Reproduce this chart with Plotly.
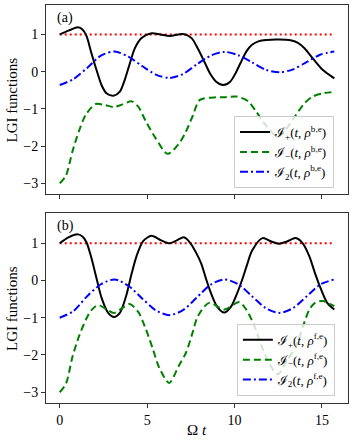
import plotly.graph_objects as go

# ---- data ----
t_end = 15.708
# panel (a)
a_plus_x = [0, 0.5, 1.05, 1.3, 1.53, 1.81, 2.1, 2.39, 2.67, 3.08, 3.44, 3.72, 4.01, 4.3, 4.68, 5.25, 5.75, 6.3, 7.06, 7.54, 7.92, 8.3, 8.6, 8.95, 9.36, 9.75, 10.05, 10.35, 10.69, 11.0, 11.4, 11.8, 12.56, 13.2, 13.6, 14.0, 14.47, 15.04, 15.708]
a_plus_y = [1.0, 1.1, 1.19, 1.13, 0.96, 0.5, 0.05, -0.36, -0.58, -0.65, -0.54, -0.22, 0.22, 0.63, 0.9, 1.03, 1.0, 0.96, 1.01, 0.9, 0.6, 0.24, -0.05, -0.27, -0.36, -0.27, -0.05, 0.24, 0.55, 0.72, 0.82, 0.85, 0.86, 0.84, 0.78, 0.63, 0.36, 0.05, -0.18]
a_minus_x = [0, 0.35, 0.73, 1.1, 1.49, 2.06, 2.6, 3.11, 3.6, 4.12, 4.5, 4.93, 5.5, 6.17, 6.8, 7.22, 7.6, 8.02, 8.97, 9.41, 10.12, 10.79, 11.23, 11.8, 12.5, 13.1, 13.52, 14.0, 14.47, 15.1, 15.708]
a_minus_y = [-3.0, -2.8, -2.14, -1.6, -1.16, -0.87, -0.9, -0.95, -0.88, -0.80, -0.95, -1.34, -1.8, -2.21, -1.95, -1.61, -1.2, -0.76, -0.69, -0.69, -0.67, -0.8, -1.07, -1.45, -1.76, -1.45, -1.16, -0.85, -0.67, -0.58, -0.55]
a_two_x = [0, 0.785, 1.571, 2.356, 3.142, 3.927, 4.712, 5.498, 6.283, 7.069, 7.854, 8.639, 9.425, 10.21, 10.996, 11.781, 12.566, 13.352, 14.137, 14.923, 15.708]
a_two_y = [-0.36, -0.2, 0.1, 0.43, 0.54, 0.40, 0.15, -0.08, -0.17, -0.06, 0.2, 0.43, 0.53, 0.44, 0.25, 0.05, -0.02, 0.06, 0.26, 0.46, 0.54]
# panel (b)
b_plus_x = [0, 0.5, 1.05, 1.3, 1.53, 1.81, 2.1, 2.39, 2.77, 3.11, 3.44, 3.82, 4.1, 4.39, 4.77, 5.25, 5.8, 6.28, 6.7, 7.1, 7.45, 7.8, 8.1, 8.4, 8.7, 9.0, 9.41, 9.8, 10.1, 10.42, 10.7, 11.0, 11.6, 12.1, 12.56, 13.0, 13.5, 13.9, 14.28, 14.6, 14.95, 15.3, 15.708]
b_plus_y = [1.0, 1.16, 1.24, 1.18, 1.03, 0.61, 0.07, -0.46, -0.87, -0.98, -0.87, -0.38, 0.16, 0.65, 1.06, 1.2, 1.08, 1.0, 1.08, 1.16, 1.02, 0.75, 0.45, 0.0, -0.4, -0.7, -0.86, -0.7, -0.4, 0.0, 0.4, 0.8, 1.14, 1.05, 0.99, 1.05, 1.14, 1.0, 0.65, 0.2, -0.24, -0.6, -0.78]
b_minus_x = [0, 0.35, 0.73, 1.1, 1.5, 1.8, 2.19, 2.7, 3.11, 3.55, 4.0, 4.5, 4.93, 5.3, 5.7, 6.26, 6.8, 7.22, 7.6, 7.9, 8.55, 9.41, 10.27, 10.7, 11.13, 11.5, 11.9, 12.47, 13.0, 13.52, 13.9, 14.28, 14.6, 15.04, 15.708]
b_minus_y = [-3.0, -2.78, -2.05, -1.5, -1.05, -0.8, -0.66, -0.78, -0.87, -0.75, -0.63, -0.85, -1.31, -1.8, -2.35, -2.75, -2.3, -1.94, -1.4, -0.96, -0.60, -0.78, -0.58, -0.8, -1.22, -1.7, -2.15, -2.52, -2.15, -1.76, -1.25, -0.78, -0.6, -0.55, -0.69]
b_two_x = [0, 0.785, 1.571, 2.356, 3.142, 3.927, 4.712, 5.498, 6.283, 7.069, 7.854, 8.639, 9.425, 10.21, 10.996, 11.781, 12.566, 13.352, 14.137, 14.923, 15.708]
b_two_y = [-1.0, -0.82, -0.42, -0.1, 0.03, -0.14, -0.48, -0.8, -0.93, -0.79, -0.45, -0.11, 0.03, -0.10, -0.42, -0.74, -0.87, -0.74, -0.42, -0.10, 0.03]
bound_x = [0, t_end]
bound_y = [1, 1]

x_ticks = [0, 5, 10, 15]
y_ticks = [-3, -2, -1, 0, 1]

names_a = ["ℐ<sub>+</sub>(<i>t</i>, <i>ρ</i><sup>b,e</sup>)",
           "ℐ<sub>−</sub>(<i>t</i>, <i>ρ</i><sup>b,e</sup>)",
           "ℐ<sub>2</sub>(<i>t</i>, <i>ρ</i><sup>b,e</sup>)"]
names_b = ["ℐ<sub>+</sub>(<i>t</i>, <i>ρ</i><sup>f,e</sup>)",
           "ℐ<sub>−</sub>(<i>t</i>, <i>ρ</i><sup>f,e</sup>)",
           "ℐ<sub>2</sub>(<i>t</i>, <i>ρ</i><sup>f,e</sup>)"]

FONT = "Liberation Serif, DejaVu Serif, serif"
fig = go.Figure()

def add_panel(xa, ya, legend, names, px, py, mx, my, tx, ty):
    fig.add_trace(go.Scatter(x=bound_x, y=bound_y, mode="lines", xaxis=xa, yaxis=ya,
                             line=dict(color="#ff0000", width=2, dash="2px,3px"), showlegend=False))
    fig.add_trace(go.Scatter(x=px, y=py, mode="lines", xaxis=xa, yaxis=ya, name=names[0], legend=legend,
                             line=dict(color="black", width=2, shape="spline", smoothing=0.8)))
    fig.add_trace(go.Scatter(x=mx, y=my, mode="lines", xaxis=xa, yaxis=ya, name=names[1], legend=legend,
                             line=dict(color="#008000", width=2, dash="7px,4px", shape="spline", smoothing=0.8)))
    fig.add_trace(go.Scatter(x=tx, y=ty, mode="lines", xaxis=xa, yaxis=ya, name=names[2], legend=legend,
                             line=dict(color="#0000ff", width=2, dash="8px,3px,2px,3px", shape="spline", smoothing=0.8)))

add_panel("x", "y", "legend", names_a, a_plus_x, a_plus_y, a_minus_x, a_minus_y, a_two_x, a_two_y)
add_panel("x2", "y2", "legend2", names_b, b_plus_x, b_plus_y, b_minus_x, b_minus_y, b_two_x, b_two_y)

axis_common = dict(showgrid=False, zeroline=False, showline=True, mirror=True, linecolor="#333333",
                   linewidth=1, ticks="outside", ticklen=4, tickcolor="#333333",
                   tickfont=dict(family=FONT, size=14, color="black"))

legend_common = dict(bgcolor="rgba(255,255,255,0.8)", bordercolor="#cccccc", borderwidth=1,
                     font=dict(family=FONT, size=13, color="black"), xanchor="left", yanchor="bottom",
                     itemwidth=30, tracegroupgap=0)

fig.update_layout(
    width=353, height=445, margin=dict(l=46, r=5, t=5, b=42),
    plot_bgcolor="white", paper_bgcolor="white",
    font=dict(family=FONT, color="black"),
    xaxis=dict(domain=[0, 1], anchor="y", range=[-0.785, 16.49], tickvals=x_ticks, showticklabels=False, **axis_common),
    yaxis=dict(domain=[0.525, 1], anchor="x", range=[-3.29, 1.79], tickvals=y_ticks, **axis_common),
    xaxis2=dict(domain=[0, 1], anchor="y2", range=[-0.785, 16.49], tickvals=x_ticks, **axis_common),
    yaxis2=dict(domain=[0, 0.477], anchor="x2", range=[-3.29, 1.81], tickvals=y_ticks, **axis_common),
    legend=dict(x=0.6225, y=0.540, **legend_common),
    legend2=dict(x=0.632, y=0.018, **legend_common),
    annotations=[
        dict(text="(a)", xref="x domain", yref="y domain", x=0.03, y=0.933, xanchor="left", yanchor="middle",
             showarrow=False, font=dict(family=FONT, size=14, color="black")),
        dict(text="(b)", xref="x2 domain", yref="y2 domain", x=0.03, y=0.93, xanchor="left", yanchor="middle",
             showarrow=False, font=dict(family=FONT, size=14, color="black")),
        dict(text="LGI functions", xref="paper", yref="y domain", x=-0.113, y=0.5, textangle=-90,
             xanchor="center", yanchor="middle", showarrow=False, font=dict(family=FONT, size=15, color="black")),
        dict(text="LGI functions", xref="paper", yref="y2 domain", x=-0.113, y=0.5, textangle=-90,
             xanchor="center", yanchor="middle", showarrow=False, font=dict(family=FONT, size=15, color="black")),
        dict(text="Ω <i>t</i>", xref="x2 domain", yref="paper", x=0.5, y=-0.068,
             xanchor="center", yanchor="middle", showarrow=False, font=dict(family=FONT, size=15, color="black")),
    ],
)

fig.write_html("out.html", config={"displayModeBar": False},
               post_script="document.body.style.margin='0px';")
